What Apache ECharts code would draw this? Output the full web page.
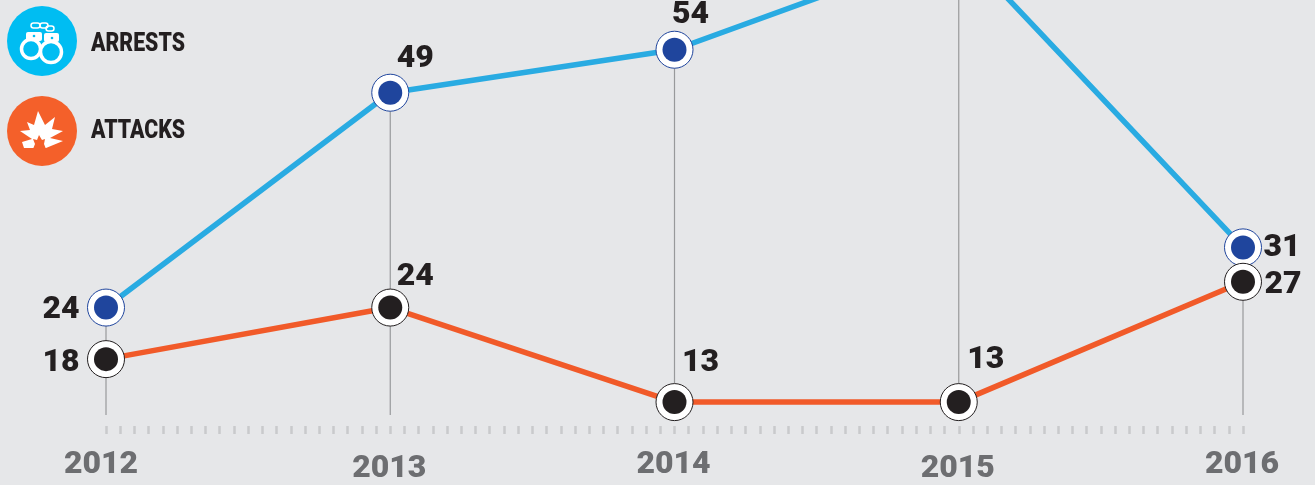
<!DOCTYPE html>
<html><head><meta charset="utf-8">
<style>html,body{margin:0;padding:0;background:#e6e7e9}#c{width:1315px;height:485px}</style>
<script src="https://cdn.jsdelivr.net/npm/echarts@6/dist/echarts.min.js"></script>
</head><body><div id="c"></div>
<script>
const years = [2012, 2013, 2014, 2015, 2016];
const arrests = [24, 49, 54, 66, 31];
const attacks = [18, 24, 13, 13, 27];
const legendNames = ['ARRESTS', 'ATTACKS'];

const arrestLabelOffsets = [[-45,2],[25,-34],[16,-35],null,[39,1]];
const attackLabelOffsets = [[-45,4],[25,-31],[26,-39],[27,-42],[40,3]];
const yearLabelShift = [-5,-1,-1,-1,-1];

const Y_MIN = 11.5, Y_MAX = 59.67;
const INK = '#231f20', BLUE = '#1f459d', LINE_B = '#29abe2', LINE_O = '#f15a29';
const pts = a => a.map((v,i)=>[years[i],v]);
const dots = (a,off) => a.map((v,i)=>({
  value:[years[i],v],
  label: off[i] ? {show:true, position:'inside', offset:off[i], formatter:String(v),
    color:INK, fontFamily:'Roboto', fontWeight:900, fontSize:32} : {show:false}
}));
const yearStyle = (top,bottom,left,right)=>({fontFamily:'Roboto',fontWeight:900,fontSize:32,color:'#6d6e71',padding:[top,right,bottom,left]});

const chart = echarts.init(document.getElementById('c'), null, {renderer:'canvas'});
chart.setOption({
  animation:false,
  backgroundColor:'#e6e7e9',
  grid:{left:106, width:1137, top:1, height:415},
  xAxis:{type:'value', min:2012, max:2016, interval:1, offset:11,
    axisLine:{show:false},
    axisTick:{show:true, length:8, lineStyle:{color:'#c9cacc', width:2.5}},
    minorTick:{show:true, splitNumber:20, length:8, lineStyle:{color:'#c9cacc', width:2.5}},
    splitLine:{show:false}, minorSplitLine:{show:false},
    axisLabel:{margin:23, hideOverlap:false, showMinLabel:true, showMaxLabel:true,
      formatter:v=>'{y'+years.indexOf(v)+'|'+v+'}',
      rich:Object.fromEntries(yearLabelShift.map((s,i)=>['y'+i,
        yearStyle(i%2?4:0, i%2?0:4, s<0?0:s, s<0?-2*s:0)]))}
  },
  yAxis:{type:'value', min:Y_MIN, max:Y_MAX, show:false, splitLine:{show:false}},
  series:[
    {type:'custom', data:pts(arrests), z:1, silent:true,
      renderItem:(p,api)=>{
        const a=api.coord([api.value(0),api.value(1)]), b=api.coord([api.value(0),Y_MIN]);
        return {type:'line', shape:{x1:a[0],y1:a[1],x2:b[0],y2:b[1]}, style:{stroke:'#98999b',lineWidth:1.2,fill:null}};
      }},
    {type:'line', data:pts(arrests), z:2, clip:false, lineStyle:{color:LINE_B,width:5.5},
      symbol:'circle', symbolSize:37, showSymbol:true,
      itemStyle:{color:'#fff',borderColor:BLUE,borderWidth:1}},
    {type:'line', data:pts(attacks), z:3, clip:false, lineStyle:{color:LINE_O,width:5.5},
      symbol:'circle', symbolSize:37, showSymbol:true,
      itemStyle:{color:'#fff',borderColor:INK,borderWidth:1}},
    {type:'scatter', data:dots(arrests,arrestLabelOffsets), z:4, symbolSize:24, clip:false,
      itemStyle:{color:BLUE,opacity:1}},
    {type:'scatter', data:dots(attacks,attackLabelOffsets), z:5, symbolSize:24, clip:false,
      itemStyle:{color:INK,opacity:1}}
  ],
  graphic:[
    {type:'circle', shape:{cx:42,cy:41,r:35}, style:{fill:'#00bdf2'}},
    {type:'circle', shape:{cx:42,cy:131,r:35}, style:{fill:'#f4602a'}},
    // handcuffs
    {type:'circle', shape:{cx:31,cy:49,r:9.5}, style:{fill:'none',stroke:'#fff',lineWidth:3.5}},
    {type:'circle', shape:{cx:51,cy:52,r:10.5}, style:{fill:'#00bdf2',stroke:'#fff',lineWidth:3.5}},
    {type:'rect', shape:{x:26,y:32,width:16,height:9,r:2}, style:{fill:'#fff'}},
    {type:'rect', shape:{x:44,y:33,width:15,height:9,r:2}, style:{fill:'#fff'}},
    {type:'circle', shape:{cx:34,cy:36,r:1.3}, style:{fill:'#00bdf2'}},
    {type:'circle', shape:{cx:52,cy:38,r:1.3}, style:{fill:'#00bdf2'}},
    {type:'rect', shape:{x:31,y:23,width:9,height:5,r:2.5}, style:{fill:'none',stroke:'#fff',lineWidth:1.5}},
    {type:'rect', shape:{x:40,y:23,width:8,height:5,r:2.5}, style:{fill:'none',stroke:'#fff',lineWidth:1.5}},
    {type:'rect', shape:{x:46,y:26,width:8,height:5,r:2.5}, style:{fill:'none',stroke:'#fff',lineWidth:1.5}},
    // explosion
    {type:'polygon', shape:{points:[[38,111],[45,125],[55,117],[52,129],[63,131],[50,138],[63,141],[46,148],[24,148],[22,142],[32,139],[20,131],[30,130],[27,122],[34,125]]}, style:{fill:'#fff'}},
    {type:'polygon', shape:{points:[[39,135],[42,140],[45,139],[44,144],[46,149],[33,149],[35,144],[33,139],[37,140]]}, style:{fill:'#f4602a'}},
    {type:'text', x:91, y:45, style:{text:legendNames[0], font:'900 25px Roboto', fill:INK, textVerticalAlign:'middle'}, scaleX:0.85},
    {type:'text', x:91, y:132, style:{text:legendNames[1], font:'900 25px Roboto', fill:INK, textVerticalAlign:'middle'}, scaleX:0.85}
  ]
});
</script></body></html>
